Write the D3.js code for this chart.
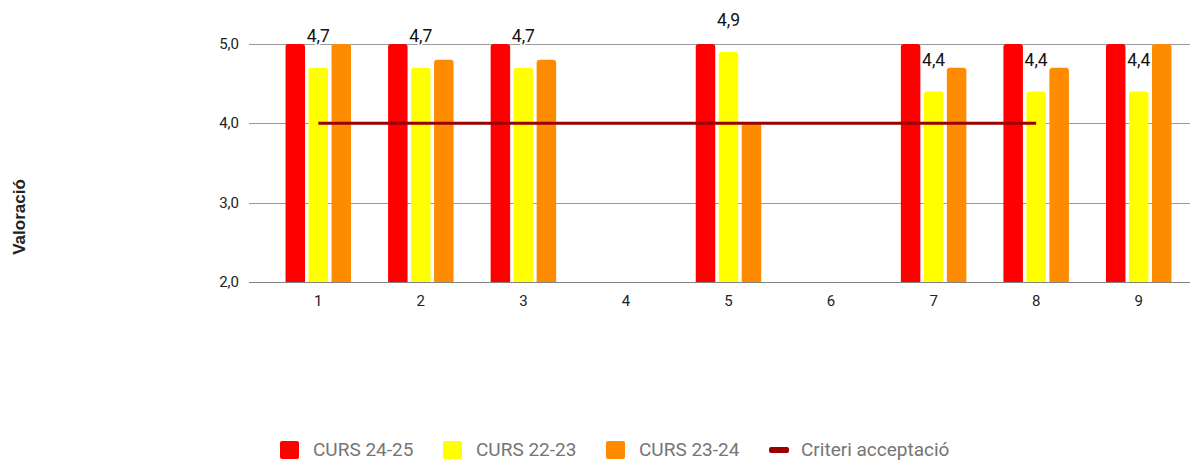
<!DOCTYPE html>
<html>
<head>
<meta charset="utf-8">
<script src="https://cdn.jsdelivr.net/npm/d3@7"></script>
<style>
  body { margin: 0; background: #fff; }
  svg { display: block; font-family: Roboto, "Noto Sans", sans-serif; }
</style>
</head>
<body>
<div id="graphicContainer"></div>
<script>
var categories = ["1", "2", "3", "4", "5", "6", "7", "8", "9"]
var seriesNames = ["CURS 24-25", "CURS 22-23", "CURS 23-24"]
var seriesColours = ["#ff0000", "#ffff00", "#ff8c00"]
var curs2425 = [5.0, 5.0, 5.0, null, 5.0, null, 5.0, 5.0, 5.0]
var curs2223 = [4.7, 4.7, 4.7, null, 4.9, null, 4.4, 4.4, 4.4]
var curs2324 = [5.0, 4.8, 4.8, null, 4.0, null, 4.7, 4.7, 5.0]
var criteri = [4.0, 4.0, 4.0, 4.0, 4.0, 4.0, 4.0, 4.0, null]
var criteriName = "Criteri acceptació"
var criteriColour = "#990000"
var yTicks = [2, 3, 4, 5]

var width = 1195, height = 461
var target = "#graphicContainer"

var svg = d3.select(target).append("svg")
    .attr("width", width)
    .attr("height", height)

var x = d3.scaleBand().domain(categories).range([267, 1190]).padding(0)
var x1 = d3.scaleBand().domain(seriesNames).range([-32.75, 32.75]).paddingInner(0.152)
var y = d3.scaleLinear().domain([2, 5]).range([282, 44])

var fmt = v => d3.format(".1f")(v).replace(".", ",")

// gridlines
svg.append("g")
    .selectAll("line")
    .data(yTicks)
    .enter()
    .append("line")
    .attr("x1", 249)
    .attr("x2", 1190)
    .attr("y1", d => Math.round(y(d)) + 0.5)
    .attr("y2", d => Math.round(y(d)) + 0.5)
    .attr("stroke", d => d == 2 ? "#808080" : "#9a9a9a")
    .attr("stroke-width", 1)

// y tick labels
svg.append("g")
    .selectAll("text")
    .data(yTicks)
    .enter()
    .append("text")
    .attr("x", 239)
    .attr("y", d => y(d) + 5)
    .attr("text-anchor", "end")
    .attr("font-size", 15)
    .attr("fill", "#222")
    .text(d => fmt(d))

// x tick labels
svg.append("g")
    .selectAll("text")
    .data(categories)
    .enter()
    .append("text")
    .attr("x", d => x(d) + x.bandwidth() / 2)
    .attr("y", 306)
    .attr("text-anchor", "middle")
    .attr("font-size", 15)
    .attr("fill", "#222")
    .text(d => d)

var allSeries = [curs2425, curs2223, curs2324]

var bars = []
allSeries.forEach(function(vals, si) {
    vals.forEach(function(v, ci) {
        if (v != null) bars.push({ s: seriesNames[si], c: categories[ci], v: v, colour: seriesColours[si] })
    })
})

svg.append("g")
    .selectAll("path")
    .data(bars)
    .enter()
    .append("path")
    .attr("fill", d => d.colour)
    .attr("d", function(d) {
        var x0 = x(d.c) + x.bandwidth() / 2 + x1(d.s)
        var w = x1.bandwidth()
        var top = y(d.v), bottom = y(2), r = 3
        return `M${x0},${bottom}V${top + r}Q${x0},${top} ${x0 + r},${top}H${x0 + w - r}Q${x0 + w},${top} ${x0 + w},${top + r}V${bottom}Z`
    })

// criteri line
var line = d3.line()
    .defined(d => d != null)
    .x((d, i) => x(categories[i]) + x.bandwidth() / 2)
    .y(d => y(d))

svg.append("path")
    .datum(criteri)
    .attr("fill", "none")
    .attr("stroke", criteriColour)
    .attr("stroke-width", 3)
    .attr("d", line)

// annotations on CURS 22-23
svg.append("g")
    .selectAll("text")
    .data(curs2223.map((v, i) => ({ v: v, c: categories[i] })).filter(d => d.v != null))
    .enter()
    .append("text")
    .attr("x", d => x(d.c) + x.bandwidth() / 2 + x1("CURS 22-23") + x1.bandwidth() / 2)
    .attr("y", d => y(d.v) - 25.5)
    .attr("text-anchor", "middle")
    .attr("font-size", 17.5)
    .attr("fill", "#111")
    .attr("stroke", "#fff")
    .attr("stroke-width", 3)
    .attr("paint-order", "stroke")
    .text(d => fmt(d.v))

// y axis title
svg.append("text")
    .attr("transform", "translate(25,217) rotate(-90)")
    .attr("text-anchor", "middle")
    .attr("font-family", "'Liberation Sans', Arial, sans-serif")
    .attr("font-weight", "bold")
    .attr("font-size", 17)
    .attr("fill", "#222")
    .text("Valoració")

// legend
var legendItems = [
    { name: seriesNames[0], colour: seriesColours[0], x: 280, type: "rect" },
    { name: seriesNames[1], colour: seriesColours[1], x: 443, type: "rect" },
    { name: seriesNames[2], colour: seriesColours[2], x: 606, type: "rect" },
    { name: criteriName, colour: criteriColour, x: 769, type: "line" }
]

var legend = svg.append("g")
legendItems.forEach(function(d) {
    if (d.type == "rect") {
        legend.append("rect")
            .attr("x", d.x).attr("y", 441)
            .attr("width", 19).attr("height", 18)
            .attr("rx", 2)
            .attr("fill", d.colour)
    } else {
        legend.append("rect")
            .attr("x", d.x).attr("y", 447)
            .attr("width", 20).attr("height", 6)
            .attr("rx", 2)
            .attr("fill", d.colour)
    }
    legend.append("text")
        .attr("x", d.type == "rect" ? d.x + 33 : d.x + 32)
        .attr("y", 456)
        .attr("font-size", 19)
        .attr("fill", "#757575")
        .text(d.name)
})
</script>
</body>
</html>
